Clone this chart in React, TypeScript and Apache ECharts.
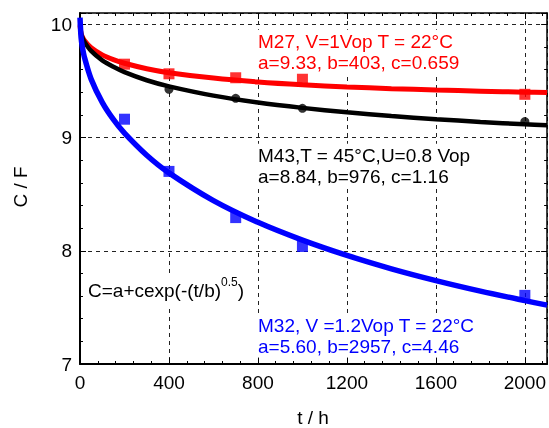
import React, { useEffect, useRef } from "react";
import * as echarts from "echarts";

// Fitted curves C = a + c*exp(-(t/b)^0.5)
const curveT = [0, 5, 10, 20, 50, 100, 150, 200, 300, 400, 600, 800, 1000, 1200, 1400, 1600, 1800, 2000, 2100];
const redCurve = [9.989, 9.92, 9.893, 9.857, 9.793, 9.73, 9.688, 9.656, 9.608, 9.573, 9.525, 9.491, 9.466, 9.447, 9.432, 9.42, 9.41, 9.401, 9.397];
const blackCurve = [10.0, 9.92, 9.888, 9.845, 9.765, 9.682, 9.625, 9.578, 9.506, 9.452, 9.37, 9.309, 9.262, 9.223, 9.19, 9.162, 9.138, 9.117, 9.108];
const blueCurve = [10.06, 9.88, 9.806, 9.708, 9.516, 9.311, 9.16, 9.039, 8.844, 8.688, 8.443, 8.251, 8.094, 7.959, 7.841, 7.737, 7.644, 7.56, 7.52];

// Measured points
const redT = [200, 400, 700, 1000, 2000];
const redC = [9.648, 9.563, 9.528, 9.522, 9.382];
const blackT = [400, 700, 1000, 2000];
const blackC = [9.426, 9.346, 9.258, 9.141];
const blueT = [200, 400, 700, 1000, 2000];
const blueC = [9.162, 8.701, 8.293, 8.038, 7.606];

const xTicks = [0, 400, 800, 1200, 1600, 2000];
const yTicks = [7, 8, 9, 10];

const redLines = ["M27, V=1Vop T = 22°C", "a=9.33, b=403, c=0.659"];
const blackLines = ["M43,T = 45°C,U=0.8 Vop", "a=8.84, b=976, c=1.16"];
const blueLines = ["M32, V =1.2Vop T = 22°C", "a=5.60, b=2957, c=4.46"];

const zip = (xs: number[], ys: number[]) => xs.map((x, i) => [x, ys[i]]);

const FONT = "Liberation Sans, Arial, sans-serif";
const FS = 19;

export default function App() {
  const ref = useRef<HTMLDivElement>(null);
  useEffect(() => {
    if (!ref.current) return;
    const chart = echarts.init(ref.current, null, { renderer: "svg" });
    const commonTick = { show: true, inside: true, length: 6, lineStyle: { color: "#000", width: 1 } };
    const commonMinor = { show: true, splitNumber: 5, length: 3, lineStyle: { color: "#000", width: 1 } };
    const dashed = { show: true, lineStyle: { color: "#222", type: [4, 4] as any, width: 1 } };
    const block = (x: number, y: number, lines: string[], color: string) => ({
      type: "text",
      x,
      y,
      style: {
        text: lines.join("\n"),
        fill: color,
        font: `${FS}px ${FONT}`,
        lineHeight: 21,
        align: "left",
        verticalAlign: "middle",
        backgroundColor: "#fff",
        padding: [1, 2, 1, 2],
      },
      z: 100,
    });
    chart.setOption({
      animation: false,
      grid: { left: 80, right: 1, top: 13, bottom: 64 },
      xAxis: [
        {
          type: "value",
          min: 0,
          max: 2100,
          interval: 400,
          position: "bottom",
          axisLine: { show: true, onZero: false, lineStyle: { color: "#000", width: 2 } },
          axisTick: commonTick,
          minorTick: commonMinor,
          splitLine: dashed,
          axisLabel: {
            color: "#000",
            fontSize: FS,
            fontFamily: FONT,
            margin: 9,
            showMaxLabel: false,
            formatter: (v: number) => (xTicks.includes(v) ? String(v) : ""),
          },
        },
        {
          type: "value",
          min: 0,
          max: 2100,
          interval: 400,
          position: "top",
          axisLine: { show: true, onZero: false, lineStyle: { color: "#000", width: 1.5 } },
          axisTick: commonTick,
          minorTick: commonMinor,
          splitLine: { show: false },
          axisLabel: { show: false },
        },
      ],
      yAxis: [
        {
          type: "value",
          min: 7,
          max: 10.1,
          interval: 1,
          position: "left",
          axisLine: { show: true, onZero: false, lineStyle: { color: "#000", width: 2 } },
          axisTick: commonTick,
          minorTick: commonMinor,
          splitLine: dashed,
          axisLabel: {
            color: "#000",
            fontSize: FS,
            fontFamily: FONT,
            margin: 8,
            showMaxLabel: false,
            formatter: (v: number) => (yTicks.includes(v) ? String(v) : ""),
          },
        },
        {
          type: "value",
          min: 7,
          max: 10.1,
          interval: 1,
          position: "right",
          axisLine: { show: true, onZero: false, lineStyle: { color: "#000", width: 1.5 } },
          axisTick: commonTick,
          minorTick: commonMinor,
          splitLine: { show: false },
          axisLabel: { show: false },
        },
      ],
      series: [
        {
          type: "scatter",
          data: zip(redT, redC),
          symbol: "rect",
          symbolSize: 11,
          itemStyle: { color: "#ff0000" },
          z: 2,
        },
        {
          type: "scatter",
          data: zip(blackT, blackC),
          symbol: "circle",
          symbolSize: 9,
          itemStyle: { color: "#000" },
          z: 2,
        },
        {
          type: "scatter",
          data: zip(blueT, blueC),
          symbol: "rect",
          symbolSize: 11,
          itemStyle: { color: "#0000ff" },
          z: 2,
        },
        {
          type: "line",
          data: zip(curveT, redCurve),
          smooth: 0.3,
          showSymbol: false,
          lineStyle: { color: "#ff0000", width: 5 },
          z: 3,
        },
        {
          type: "line",
          data: zip(curveT, blackCurve),
          smooth: 0.3,
          showSymbol: false,
          lineStyle: { color: "#000", width: 4.5 },
          z: 3,
        },
        {
          type: "line",
          data: zip(curveT, blueCurve),
          smooth: 0.3,
          showSymbol: false,
          lineStyle: { color: "#0000ff", width: 5.5 },
          z: 3,
        },
      ],
      graphic: [
        block(256, 51.75, redLines, "#ff0000"),
        block(256, 165.75, blackLines, "#000"),
        block(256, 335.5, blueLines, "#0000ff"),
        {
          type: "text",
          x: 86,
          y: 290,
          z: 100,
          style: {
            text: "{m|C=a+cexp(-(t/b)}{s|0.5}{m|)}",
            align: "left",
            verticalAlign: "middle",
            fill: "#000",
            backgroundColor: "#fff",
            padding: [1, 2, 1, 2],
            rich: {
              m: { fontSize: FS, fontFamily: FONT, fill: "#000" },
              s: { fontSize: 12, fontFamily: FONT, fill: "#000", padding: [0, 0, 16, 0] },
            },
          },
        },
        {
          type: "text",
          x: 20,
          y: 187,
          rotation: Math.PI / 2,
          z: 100,
          style: { text: "C / F", font: `${FS}px ${FONT}`, fill: "#000", align: "center", verticalAlign: "middle" },
        },
        {
          type: "text",
          x: 313,
          y: 417,
          z: 100,
          style: { text: "t / h", font: `${FS}px ${FONT}`, fill: "#000", align: "center", verticalAlign: "middle" },
        },
      ],
    });
    return () => chart.dispose();
  }, []);
  return <div ref={ref} style={{ position: "fixed", left: 0, top: 0, width: 549, height: 428 }} />;
}
